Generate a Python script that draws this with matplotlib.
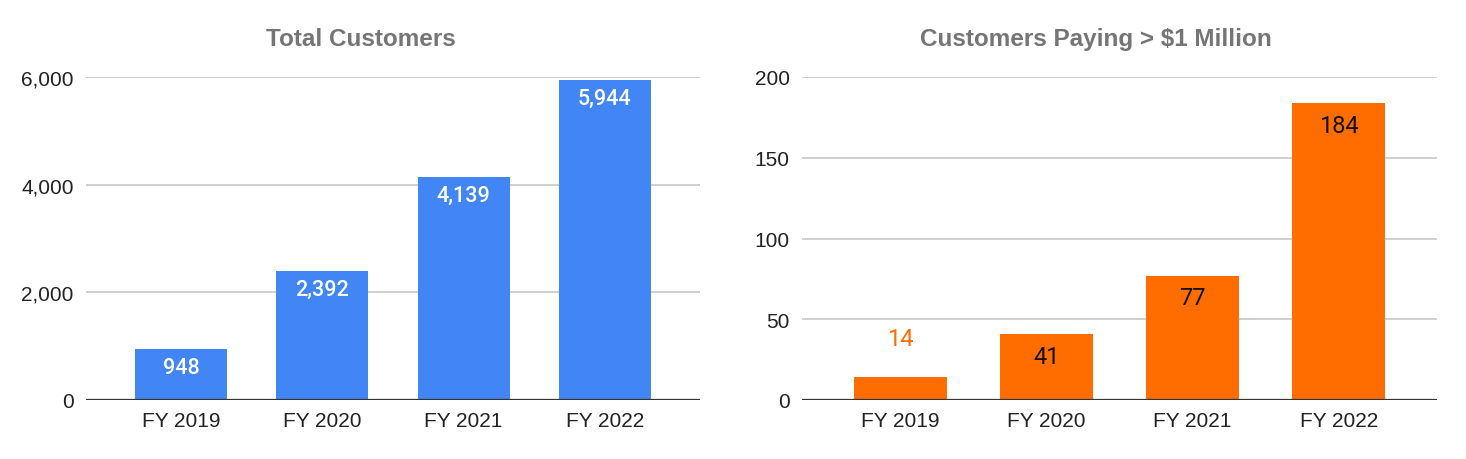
import matplotlib.pyplot as plt

years = ["FY 2019", "FY 2020", "FY 2021", "FY 2022"]
total_customers = [948, 2392, 4139, 5944]
million_customers = [14, 41, 77, 184]

left_ticks = [0, 2000, 4000, 6000]
right_ticks = [0, 50, 100, 150, 200]

blue = "#4285f4"
orange = "#ff6d01"
title_color = "#757575"
tick_color = "#222222"

fig = plt.figure(figsize=(14.66, 4.6), dpi=100)
ax1 = fig.add_axes([86 / 1466, 59 / 460, 614 / 1466, 323 / 460])
ax2 = fig.add_axes([802 / 1466, 59 / 460, 635 / 1466, 323 / 460])


def style(ax, ticks):
    ax.set_ylim(ticks[0], ticks[-1])
    ax.set_yticks(ticks)
    ax.set_yticklabels([f"{t:,}" for t in ticks], fontsize=15,
                       family="Liberation Sans", color=tick_color)
    ax.set_xlim(-0.673, 3.673)
    ax.set_xticks(range(len(years)))
    ax.set_xticklabels(years, fontsize=15, family="Liberation Sans", color=tick_color)
    ax.tick_params(axis="x", length=0, pad=8)
    ax.tick_params(axis="y", length=0, pad=9)
    ax.grid(axis="y", color="#cccccc", linewidth=1.3)
    ax.set_axisbelow(True)
    for s in ax.spines.values():
        s.set_visible(False)
    ax.axhline(0, color="#333333", linewidth=1.6, zorder=3)


# left chart
bars = ax1.bar(range(len(years)), total_customers, width=0.65, color=blue, zorder=2)
for b, v in zip(bars, total_customers):
    ax1.annotate(f"{v:,}", (b.get_x() + b.get_width() / 2, v), xytext=(0, -13),
                 textcoords="offset points", ha="center", va="center",
                 fontsize=15.5, family="Roboto", color="white", fontweight="medium")
style(ax1, left_ticks)

# right chart
bars = ax2.bar(range(len(years)), million_customers, width=0.64, color=orange, zorder=2)
for b, v in zip(bars, million_customers):
    x = b.get_x() + b.get_width() / 2
    if v < 20:
        ax2.annotate(str(v), (x, v), xytext=(0, 28), textcoords="offset points",
                     ha="center", va="center", fontsize=17, family="Roboto", color=orange)
    else:
        ax2.annotate(str(v), (x, v), xytext=(0, -16), textcoords="offset points",
                     ha="center", va="center", fontsize=17, family="Roboto", color="#111111")
style(ax2, right_ticks)

fig.text(361 / 1466, 1 - 40 / 460, "Total Customers", ha="center", va="center",
         fontsize=17.5, fontweight="bold", family="Liberation Sans", color=title_color)
fig.text(1096 / 1466, 1 - 40 / 460, "Customers Paying > $1 Million", ha="center",
         va="center", fontsize=17.5, fontweight="bold", family="Liberation Sans",
         color=title_color)

fig.savefig("out.png", dpi=100)
